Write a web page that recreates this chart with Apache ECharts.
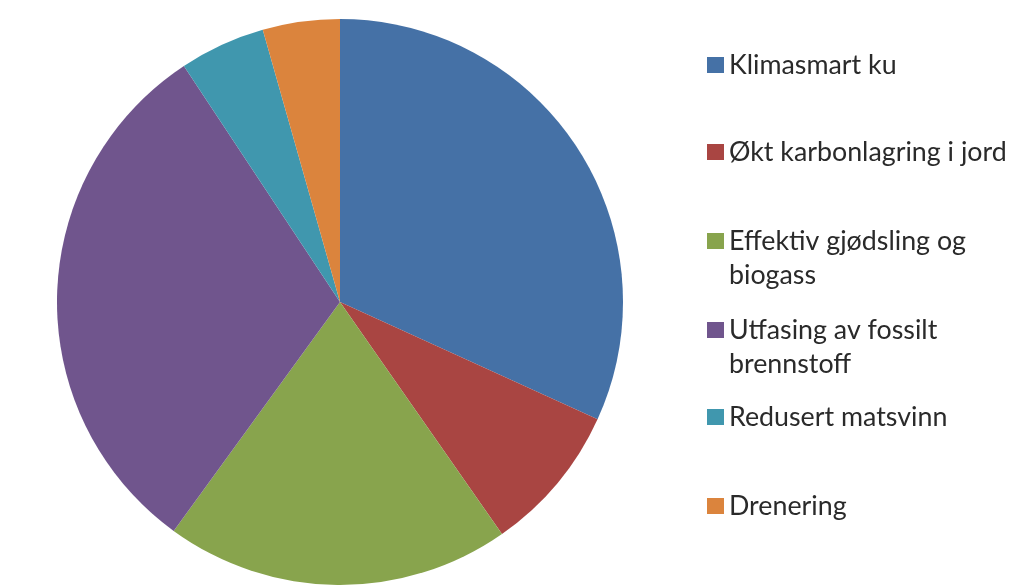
<!DOCTYPE html>
<html><head><meta charset="utf-8">
<script src="https://cdn.jsdelivr.net/npm/echarts@6/dist/echarts.min.js"></script>
<style>html,body{margin:0;padding:0;background:#fff}#c{width:1024px;height:586px}</style>
</head><body><div id="c"></div>
<script>
const categories = ['Klimasmart ku', 'Økt karbonlagring i jord', 'Effektiv gjødsling og\nbiogass', 'Utfasing av fossilt\nbrennstoff', 'Redusert matsvinn', 'Drenering'];
const values = [31.8, 8.5, 19.7, 30.7, 4.9, 4.4];
const colors = ['#4571a6', '#a94542', '#88a44d', '#70558d', '#4097ae', '#db843d'];
const legendCenters = [65, 152, 241, 330, 417, 506];

const chart = echarts.init(document.getElementById('c'), null, {renderer: 'canvas'});
const legends = categories.map((name, i) => {
  const multi = name.indexOf('\n') >= 0;
  return {
    data: [name],
    left: 702,
    top: legendCenters[i] - (multi ? 56 : 22),
    orient: 'vertical',
    itemWidth: 17,
    itemHeight: 16,
    itemGap: 0,
    icon: 'rect',
    selectedMode: false,
    formatter: n => (n.indexOf('\n') >= 0 ? '\n' + n : n),
    textStyle: {fontFamily: 'Lato', fontSize: 26.8, color: '#2a2a2a', lineHeight: 34}
  };
});
chart.setOption({
  animation: false,
  color: colors,
  legend: legends,
  series: [{
    type: 'pie',
    center: [340, 302],
    radius: 283,
    startAngle: 90,
    clockwise: true,
    label: {show: false},
    labelLine: {show: false},
    itemStyle: {borderWidth: 0},
    data: categories.map((n, i) => ({name: n, value: values[i]}))
  }]
});
</script></body></html>
